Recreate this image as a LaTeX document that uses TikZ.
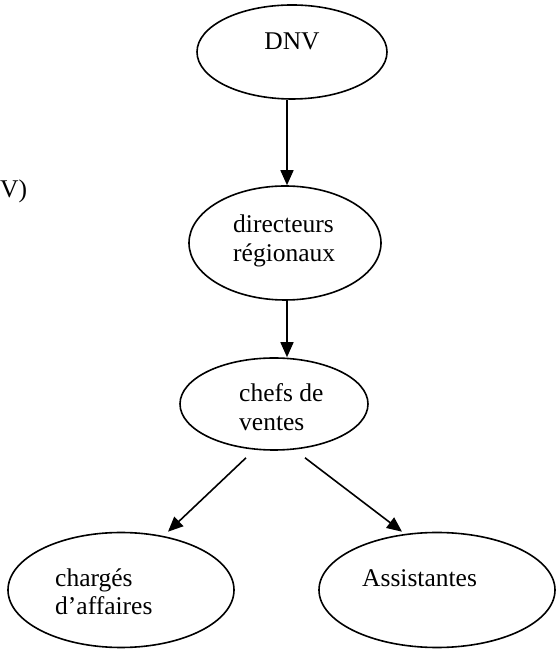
\documentclass[tikz,border=0pt]{standalone}
\usepackage{fontspec}
\setmainfont{Liberation Serif}
\usetikzlibrary{shapes.geometric,arrows.meta}
\begin{document}
\begin{tikzpicture}[x=1pt,y=1pt,
  oval/.style={draw=black,line width=1.6pt,ellipse,inner sep=0pt},
  lbl/.style={font=\fontsize{25.5}{29}\selectfont,align=left,inner sep=0pt,anchor=base west},
  arr/.style={line width=1.6pt,-{Triangle[length=15pt,width=13pt]}}]
\useasboundingbox (0,0) rectangle (557,650);
\node[oval,minimum width=190pt,minimum height=94pt] (dnv) at (292,598) {};
\node[oval,minimum width=192pt,minimum height=114pt] (dir) at (285,407) {};
\node[oval,minimum width=188pt,minimum height=92pt] (chefs) at (274,246) {};
\node[oval,minimum width=226pt,minimum height=115pt] (charges) at (121,60) {};
\node[oval,minimum width=236pt,minimum height=115pt] (assist) at (437,60) {};
\node[lbl,anchor=base] (tdnv) at (292,600) {DNV};
\node[lbl] (tdir1) at (233,417) {directeurs};
\node[lbl] (tdir2) at (233,388) {régionaux};
\node[lbl] (tchefs1) at (239,248) {chefs de};
\node[lbl] (tchefs2) at (239,219) {ventes};
\node[lbl] (tch1) at (55,63) {chargés};
\node[lbl] (tch2) at (55,35) {d’affaires};
\node[lbl] (tas) at (362,63) {Assistantes};
\node[lbl] (tv) at (0,452) {V)};
\draw[arr] ([xshift=-5pt]dnv.south) -- ([xshift=2pt]dir.north);
\draw[arr] ([xshift=2pt]dir.south) -- ([xshift=13pt]chefs.north);
\draw[arr] ([shift={(-28pt,-7pt)}]chefs.south) -- ([shift={(47pt,0pt)}]charges.north);
\draw[arr] ([shift={(31pt,-7pt)}]chefs.south) -- ([shift={(-35pt,0pt)}]assist.north);
\end{tikzpicture}
\end{document}
